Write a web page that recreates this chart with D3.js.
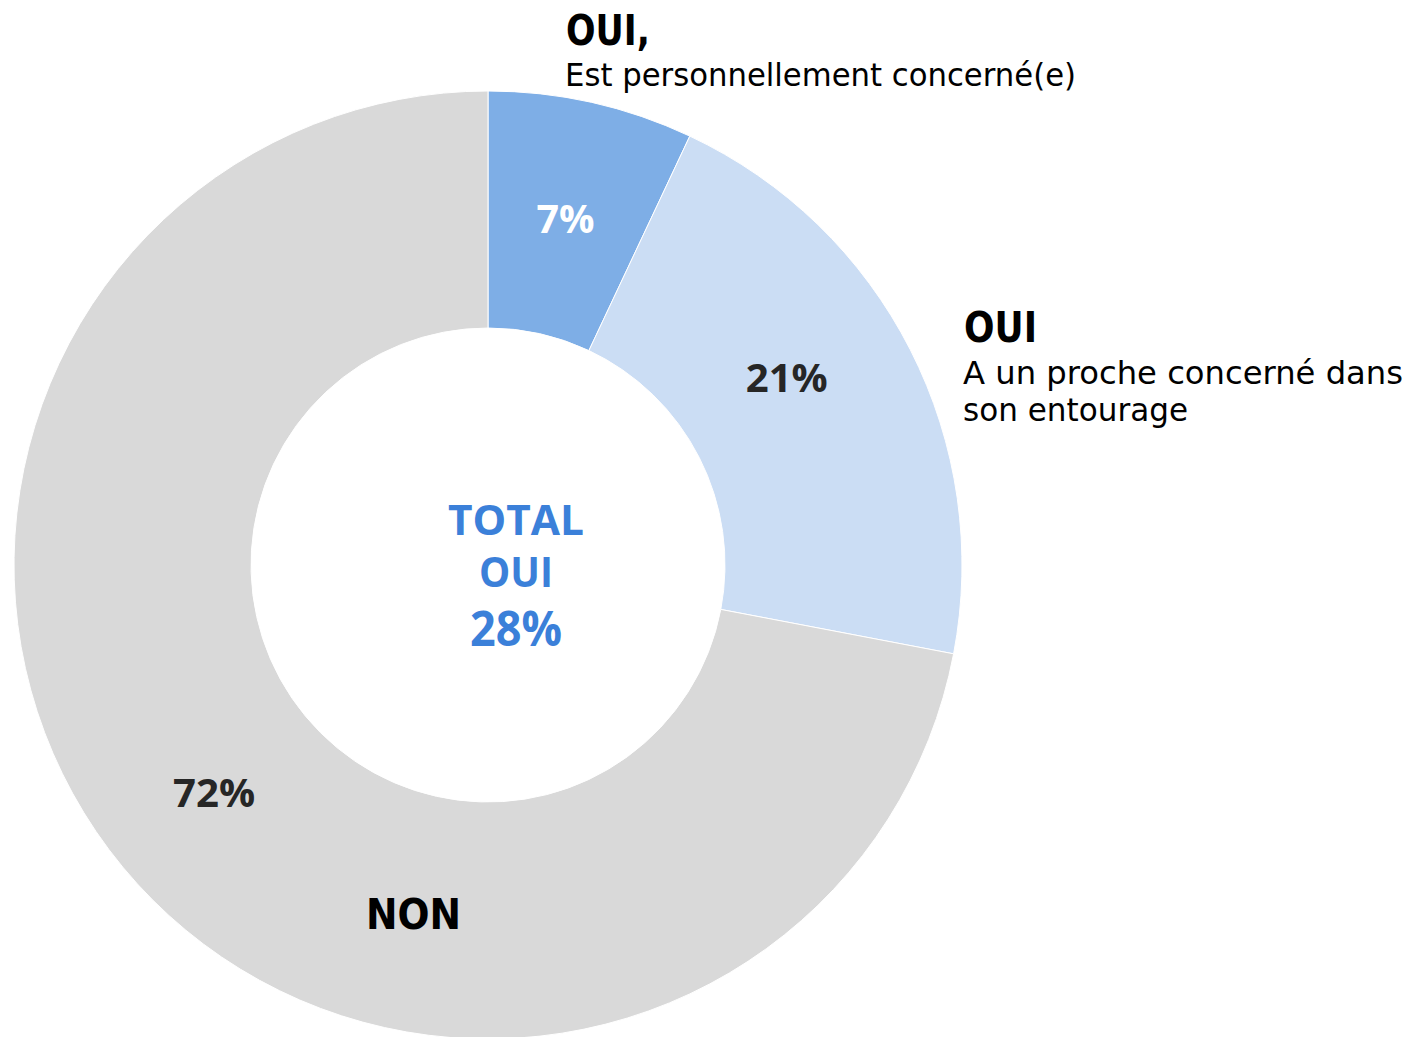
<!DOCTYPE html>
<html>
<head>
<meta charset="utf-8">
<script src="https://cdn.jsdelivr.net/npm/d3@7"></script>
<style>
  html, body { margin: 0; padding: 0; background: #fff; }
  svg { display: block; }
</style>
</head>
<body>
<svg id="chart" width="1409" height="1037"></svg>
<script>
const categories = ['OUI, personnellement', 'OUI, entourage', 'NON'];
const values = [7, 21, 72];
const valueLabels = ['7%', '21%', '72%'];
const sliceColors = ['#7eaee6', '#cbddf4', '#d9d9d9'];
const labelColors = ['#ffffff', '#262626', '#262626'];
const centerLines = ['TOTAL', 'OUI', '28%'];

const width = 1409;
const height = 1037;
const cx = 488;
const cy = 565;
const outerR = 474;
const innerR = 237;

const svg = d3.select('#chart');
const g = svg.append('g').attr('transform', `translate(${cx},${cy})`);

const pie = d3.pie().sort(null).value((d) => d);
const arc = d3.arc().innerRadius(innerR).outerRadius(outerR);
const arcs = pie(values);

g.selectAll('path.slice')
  .data(arcs)
  .enter()
  .append('path')
  .attr('class', 'slice')
  .attr('d', arc)
  .attr('fill', (d, i) => sliceColors[i])
  .attr('stroke', '#ffffff')
  .attr('stroke-width', 1);

// small nudge for the 21% label, the source moved it by hand
const labelNudge = [[0, 0], [-18, -27], [0, 0]];
const labelWidths = [58, 82, 82];

g.selectAll('text.pct')
  .data(arcs)
  .enter()
  .append('text')
  .attr('class', 'pct')
  .attr('x', (d, i) => arc.centroid(d)[0] + labelNudge[i][0])
  .attr('y', (d, i) => arc.centroid(d)[1] + labelNudge[i][1] + 15)
  .attr('text-anchor', 'middle')
  .attr('font-family', '"Open Sans", Lato, sans-serif')
  .attr('font-weight', 700)
  .attr('font-size', 40)
  .attr('fill', (d, i) => labelColors[i])
  .attr('textLength', (d, i) => labelWidths[i])
  .attr('lengthAdjust', 'spacingAndGlyphs')
  .text((d, i) => valueLabels[i]);

// centre total
const centre = svg.append('g').attr('fill', '#3b80d9')
  .attr('font-family', '"Open Sans", Lato, sans-serif')
  .attr('font-weight', 700)
  .attr('text-anchor', 'middle');

const centreRows = [
  { y: 535, size: 42, w: 136 },
  { y: 587, size: 42, w: 74 },
  { y: 646, size: 49, w: 92 }
];
centre.selectAll('text')
  .data(centerLines)
  .enter()
  .append('text')
  .attr('x', 516)
  .attr('y', (d, i) => centreRows[i].y)
  .attr('font-size', (d, i) => centreRows[i].size)
  .attr('textLength', (d, i) => centreRows[i].w)
  .attr('lengthAdjust', 'spacingAndGlyphs')
  .text((d) => d);

// category titles
const titles = [
  { text: 'OUI,', x: 566, y: 45, bold: true, w: 84 },
  { text: 'Est personnellement concerné(e)', x: 565, y: 86, bold: false, w: 511 },
  { text: 'OUI', x: 964, y: 342, bold: true, w: 73 },
  { text: 'A un proche concerné dans', x: 963, y: 384, bold: false, w: 440 },
  { text: 'son entourage', x: 963, y: 421, bold: false, w: 225 },
  { text: 'NON', x: 366, y: 929, bold: true, w: 95 }
];

svg.append('g')
  .selectAll('text')
  .data(titles)
  .enter()
  .append('text')
  .attr('x', (d) => d.x)
  .attr('y', (d) => d.y)
  .attr('font-family', '"DejaVu Sans", sans-serif')
  .attr('font-weight', (d) => (d.bold ? 700 : 400))
  .attr('font-size', (d) => (d.bold ? 42 : 32))
  .attr('fill', '#000000')
  .attr('textLength', (d) => d.w)
  .attr('lengthAdjust', 'spacingAndGlyphs')
  .text((d) => d.text);
</script>
</body>
</html>
